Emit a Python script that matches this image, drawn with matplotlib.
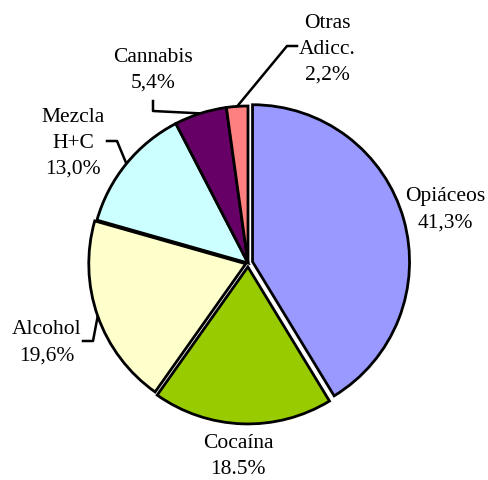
import numpy as np
import matplotlib
matplotlib.use("Agg")
import matplotlib.pyplot as plt

categories = ["Opiáceos", "Cocaína", "Alcohol", "Mezcla\nH+C", "Cannabis", "Otras\nAdicc."]
values = [41.3, 18.5, 19.6, 13.0, 5.4, 2.2]
pct_labels = ["41,3%", "18.5%", "19,6%", "13,0%", "5,4%", "2,2%"]
colors = ["#9999FF", "#99CC00", "#FFFFCC", "#CCFFFF", "#660066", "#FF8080"]
explode_frac = [0.03, 0.025, 0.015, 0.0, 0.0, 0.0]

W, H = 489, 481
fig = plt.figure(figsize=(W / 100, H / 100), dpi=100)
ax = fig.add_axes([0, 0, 1, 1])

cx, cy, R = 248, H - 264, 157
ax.pie(values, colors=colors, explode=[e * R for e in explode_frac],
       startangle=90, counterclock=False,
       center=(cx, cy), radius=R,
       wedgeprops=dict(edgecolor="black", linewidth=2), frame=True)
ax.set_xlim(0, W)
ax.set_ylim(0, H)
ax.set_aspect("equal")
ax.axis("off")

font = dict(family="Liberation Serif", size=15.5, ha="center", va="center",
            linespacing=1.5)

# label centers (pixel coords, y from top)
label_pos = [(445, 210), (238, 457), (47, 343), (73, 143), (153, 70), (327, 49)]
for cat, pct, (lx, ly) in zip(categories, pct_labels, label_pos):
    ax.text(lx, H - ly, cat + "\n" + pct, **font)

# leader lines: elbow points in pixel coords; end at wedge edge from data
angles = 90 - 360 * (np.cumsum(values) - np.array(values) / 2) / sum(values)
leaders = {
    2: [(83, 342), (93, 342)],
    3: [(107, 142), (117, 142)],
    4: [(153, 102), (153, 112)],
    5: [(297, 47), (287, 47)],
}
for i, pts in leaders.items():
    a = np.deg2rad(angles[i])
    r = R * (1 + explode_frac[i])
    ex, ey = cx + r * np.cos(a), cy + r * np.sin(a)
    xs = [p[0] for p in pts] + [ex]
    ys = [H - p[1] for p in pts] + [ey]
    ax.plot(xs, ys, color="black", linewidth=1.8, zorder=0.5)

fig.savefig("out.png", dpi=100)
